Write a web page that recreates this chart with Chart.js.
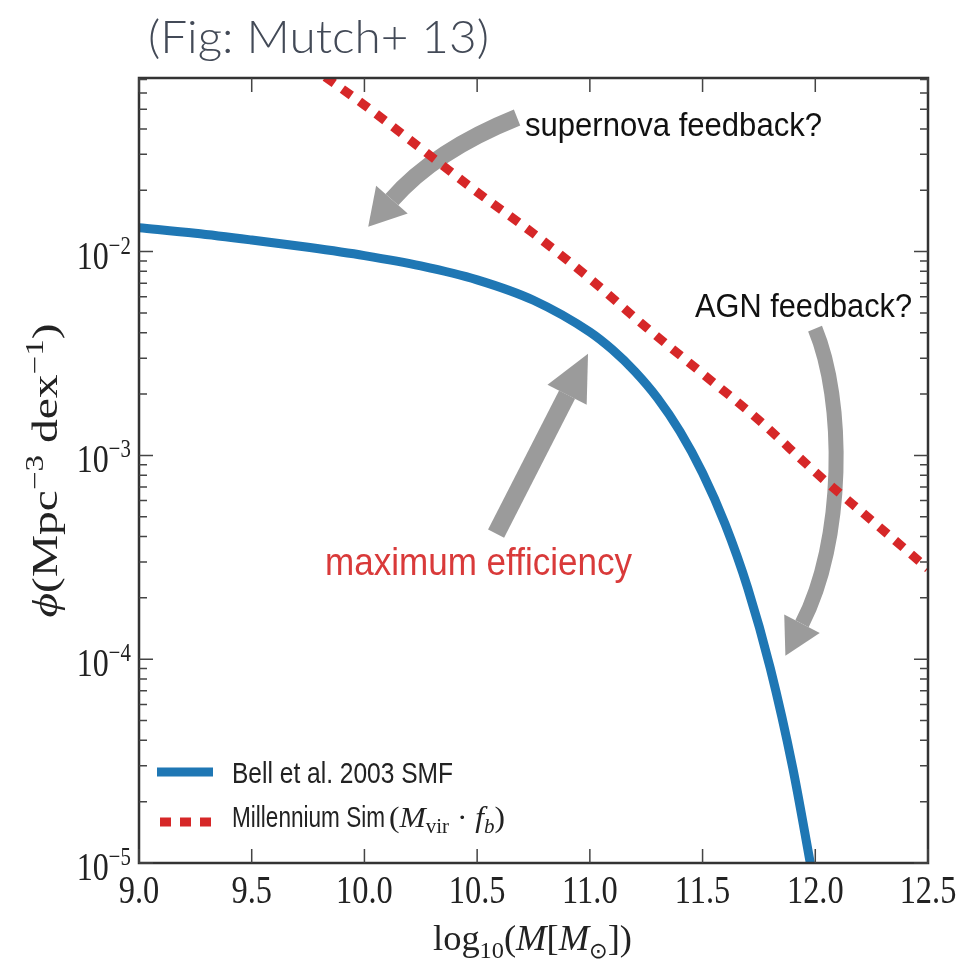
<!DOCTYPE html>
<html>
<head>
<meta charset="utf-8">
<title>Stellar mass function</title>
<script src="https://cdn.jsdelivr.net/npm/chart.js@4.4.1/dist/chart.umd.min.js"></script>
<style>
  html, body { margin: 0; padding: 0; background: #fff; }
  canvas { display: block; }
</style>
</head>
<body>
<canvas id="smfChart" width="963" height="962"></canvas>
<script>
// Bell et al. 2003 stellar mass function (log10 M, phi per Mpc^3 per dex)
const bellMass = [9.0, 9.25, 9.5, 9.75, 10.0, 10.25, 10.5, 10.75, 11.0, 11.1, 11.2, 11.3, 11.4, 11.5, 11.6, 11.7, 11.8, 11.9, 11.98];
const bellPhi = [0.0131, 0.0123, 0.0114, 0.0105, 0.00956, 0.00851, 0.00727, 0.00577, 0.00403, 0.0033, 0.00258, 0.00191, 0.00131, 0.00082, 0.00046, 0.000224, 0.0000906, 0.0000293, 0.0000097];

// Millennium halo mass function times baryon fraction
const simMass = [9.75, 10.0, 10.25, 10.5, 10.75, 11.0, 11.25, 11.5, 11.75, 12.0, 12.25, 12.5];
const simPhi = [0.0824, 0.0524, 0.0321, 0.0196, 0.01227, 0.00737, 0.00425, 0.00252, 0.00149, 0.000828, 0.00048, 0.000278];

const xTickValues = [9.0, 9.5, 10.0, 10.5, 11.0, 11.5, 12.0, 12.5];
const xTickLabels = ['9.0', '9.5', '10.0', '10.5', '11.0', '11.5', '12.0', '12.5'];
const yTickExponents = [-5, -4, -3, -2];

const SERIF = '"Liberation Serif", "DejaVu Serif", serif';
const SANS = '"Liberation Sans", Arial, sans-serif';
const INK = '#222';
const GREY = '#9b9b9b';

// draw a run of text pieces (sub/superscripts via dy), squeezed to a width if given
function drawParts(ctx, parts, x, y, opts) {
    let total = 0;
    parts.forEach(p => {
        ctx.font = p.font;
        p.w = ctx.measureText(p.text).width;
        total += p.w;
    });
    const sx = opts.width ? opts.width / total : (opts.sx || 1);
    const sy = opts.sy || 1;
    let start = x;
    if (opts.align === 'center') start = x - total * sx / 2;
    if (opts.align === 'right') start = x - total * sx;
    ctx.save();
    ctx.translate(start, y);
    ctx.scale(sx, sy);
    ctx.textAlign = 'left';
    ctx.textBaseline = 'alphabetic';
    let cx = 0;
    parts.forEach(p => {
        ctx.font = p.font;
        ctx.fillStyle = p.color || INK;
        ctx.fillText(p.text, cx, p.dy || 0);
        cx += p.w;
    });
    ctx.restore();
}

function toPx(chart, m, logPhi) {
    return [chart.scales.x.getPixelForValue(m), chart.scales.y.getPixelForValue(Math.pow(10, logPhi))];
}

// thick grey annotation arrow: body follows a straight/quadratic/cubic path, head beyond the end
function drawArrow(ctx, pts, body, headLen, headHalf) {
    const end = pts[pts.length - 1];
    const prev = pts[pts.length - 2];
    let ux = end[0] - prev[0], uy = end[1] - prev[1];
    const len = Math.hypot(ux, uy);
    ux /= len; uy /= len;
    ctx.save();
    ctx.strokeStyle = GREY;
    ctx.fillStyle = GREY;
    ctx.lineWidth = body;
    ctx.lineCap = 'butt';
    ctx.beginPath();
    ctx.moveTo(pts[0][0], pts[0][1]);
    if (pts.length === 2) ctx.lineTo(end[0], end[1]);
    if (pts.length === 3) ctx.quadraticCurveTo(pts[1][0], pts[1][1], end[0], end[1]);
    if (pts.length === 4) ctx.bezierCurveTo(pts[1][0], pts[1][1], pts[2][0], pts[2][1], end[0], end[1]);
    ctx.stroke();
    ctx.beginPath();
    ctx.moveTo(end[0] - uy * headHalf, end[1] + ux * headHalf);
    ctx.lineTo(end[0] + ux * headLen, end[1] + uy * headLen);
    ctx.lineTo(end[0] + uy * headHalf, end[1] - ux * headHalf);
    ctx.closePath();
    ctx.fill();
    ctx.restore();
}

const decorations = {
    id: 'decorations',
    beforeDatasetsDraw(chart) {
        const ctx = chart.ctx;
        const P = (m, lp) => toPx(chart, m, lp);
        // supernova feedback
        drawArrow(ctx, [P(10.677, -1.342), P(10.313, -1.504), P(10.122, -1.745)], 17, 36, 21);
        // maximum efficiency
        drawArrow(ctx, [P(10.584, -3.384), P(10.899, -2.702)], 18, 46, 22);
        // AGN feedback
        drawArrow(ctx, [P(11.999, -2.378), P(12.132, -2.731), P(12.132, -3.419), P(11.941, -3.826)], 15, 36, 20);
    },
    afterDatasetsDraw(chart) {
        const ctx = chart.ctx;
        const area = chart.chartArea;
        const xs = chart.scales.x, ys = chart.scales.y;

        // frame
        ctx.save();
        ctx.strokeStyle = '#333';
        ctx.lineWidth = 2.5;
        ctx.strokeRect(area.left, area.top, area.right - area.left, area.bottom - area.top);

        // inward ticks on all four sides
        ctx.lineWidth = 1.5;
        ctx.strokeStyle = '#444';
        ctx.beginPath();
        xTickValues.forEach(v => {
            const x = xs.getPixelForValue(v);
            ctx.moveTo(x, area.bottom); ctx.lineTo(x, area.bottom - 14);
            ctx.moveTo(x, area.top); ctx.lineTo(x, area.top + 14);
        });
        for (let e = -5; e <= -1; e++) {
            for (let k = 1; k <= 9; k++) {
                const v = k * Math.pow(10, e);
                if (v < ys.min * 0.999 || v > ys.max) continue;
                const y = ys.getPixelForValue(v);
                const l = k === 1 ? 14 : 8;
                ctx.moveTo(area.left, y); ctx.lineTo(area.left + l, y);
                ctx.moveTo(area.right, y); ctx.lineTo(area.right - l, y);
            }
        }
        ctx.stroke();
        ctx.restore();

        // tick labels
        xTickValues.forEach((v, i) => {
            drawParts(ctx, [{ text: xTickLabels[i], font: '40px ' + SERIF }],
                xs.getPixelForValue(v), area.bottom + 40, { align: 'center', sx: 0.81 });
        });
        yTickExponents.forEach(e => {
            const y = ys.getPixelForValue(Math.pow(10, e));
            drawParts(ctx, [
                { text: '10', font: '40px ' + SERIF },
                { text: '\u2212' + Math.abs(e), font: '26px ' + SERIF, dy: -15 }
            ], area.left - 8, y + 17, { align: 'right', sx: 0.8 });
        });

        // axis titles
        drawParts(ctx, [
            { text: 'log', font: '36px ' + SERIF },
            { text: '10', font: '24px ' + SERIF, dy: 8 },
            { text: '(', font: '36px ' + SERIF },
            { text: 'M', font: 'italic 36px ' + SERIF },
            { text: '[', font: '36px ' + SERIF },
            { text: 'M', font: 'italic 36px ' + SERIF },
            { text: '\u2299', font: '22px "DejaVu Sans"', dy: 8 },
            { text: '])', font: '36px ' + SERIF }
        ], (area.left + area.right) / 2 - 1, 950, { align: 'center', width: 199 });

        ctx.save();
        ctx.translate(57, (area.top + area.bottom) / 2);
        ctx.rotate(-Math.PI / 2);
        drawParts(ctx, [
            { text: '\u03d5', font: 'italic 46px ' + SERIF },
            { text: '(Mpc', font: '46px ' + SERIF },
            { text: '\u22123', font: '32px ' + SERIF, dy: -18 },
            { text: ' dex', font: '46px ' + SERIF },
            { text: '\u22121', font: '32px ' + SERIF, dy: -18 },
            { text: ')', font: '46px ' + SERIF }
        ], 0, 0, { align: 'center', width: 294, sy: 0.78 });
        ctx.restore();

        // legend
        const ds = chart.data.datasets;
        ctx.save();
        ctx.lineWidth = 9;
        ctx.lineCap = 'butt';
        ctx.strokeStyle = ds[0].borderColor;
        ctx.beginPath(); ctx.moveTo(157, 772); ctx.lineTo(213, 772); ctx.stroke();
        ctx.strokeStyle = ds[1].borderColor;
        ctx.setLineDash([11, 9]);
        ctx.beginPath(); ctx.moveTo(160, 822); ctx.lineTo(213, 822); ctx.stroke();
        ctx.restore();
        drawParts(ctx, [{ text: ds[0].label, font: '30px ' + SANS }], 232, 783, { align: 'left', width: 221 });
        drawParts(ctx, [{ text: ds[1].label, font: '30px ' + SANS }], 232, 827, { align: 'left', width: 153 });
        drawParts(ctx, [
            { text: '(', font: '30px ' + SERIF },
            { text: 'M', font: 'italic 30px ' + SERIF },
            { text: 'vir', font: '20px ' + SERIF, dy: 6 },
            { text: ' \u00b7 ', font: '30px ' + SERIF },
            { text: 'f', font: 'italic 30px ' + SERIF },
            { text: 'b', font: 'italic 20px ' + SERIF, dy: 6 },
            { text: ')', font: '30px ' + SERIF }
        ], 389, 827, { align: 'left', width: 116 });

        // annotations
        drawParts(ctx, [{ text: 'supernova feedback?', font: '33px ' + SANS, color: '#111' }], 525, 136, { align: 'left', width: 297 });
        drawParts(ctx, [{ text: 'AGN feedback?', font: '33px ' + SANS, color: '#111' }], 695, 317, { align: 'left', width: 217 });
        drawParts(ctx, [{ text: 'maximum efficiency', font: '39px ' + SANS, color: '#d93a3a' }], 325, 575, { align: 'left', width: 307 });

        // heading above the plot
        drawParts(ctx, [{ text: '(Fig: Mutch+ 13)', font: '300 45px Lato, "Open Sans", sans-serif', color: '#434a57' }], 148, 53, { align: 'left', width: 341 });
    }
};

new Chart(document.getElementById('smfChart'), {
    type: 'line',
    data: {
        datasets: [{
            label: 'Bell et al. 2003 SMF',
            data: bellMass.map((m, i) => ({ x: m, y: bellPhi[i] })),
            borderColor: '#1f77b4',
            borderWidth: 9,
            borderJoinStyle: 'round',
            pointRadius: 0,
            cubicInterpolationMode: 'monotone',
            clip: 0
        }, {
            label: 'Millennium Sim',
            data: simMass.map((m, i) => ({ x: m, y: simPhi[i] })),
            borderColor: '#d62728',
            borderWidth: 9,
            borderDash: [11, 10],
            borderCapStyle: 'butt',
            pointRadius: 0,
            cubicInterpolationMode: 'monotone',
            clip: 0
        }]
    },
    options: {
        responsive: false,
        animation: false,
        devicePixelRatio: 1,
        layout: {
            autoPadding: false,
            padding: { left: 139, right: 35, top: 78, bottom: 99 }
        },
        plugins: {
            legend: { display: false },
            tooltip: { enabled: false }
        },
        scales: {
            x: {
                type: 'linear',
                min: 9,
                max: 12.5,
                ticks: { display: false },
                grid: { display: false },
                border: { display: false },
                afterFit: s => { s.height = 0; }
            },
            y: {
                type: 'logarithmic',
                min: 1e-5,
                max: 0.0711,
                ticks: { display: false },
                grid: { display: false },
                border: { display: false },
                afterFit: s => { s.width = 0; }
            }
        }
    },
    plugins: [decorations]
});
</script>
</body>
</html>
